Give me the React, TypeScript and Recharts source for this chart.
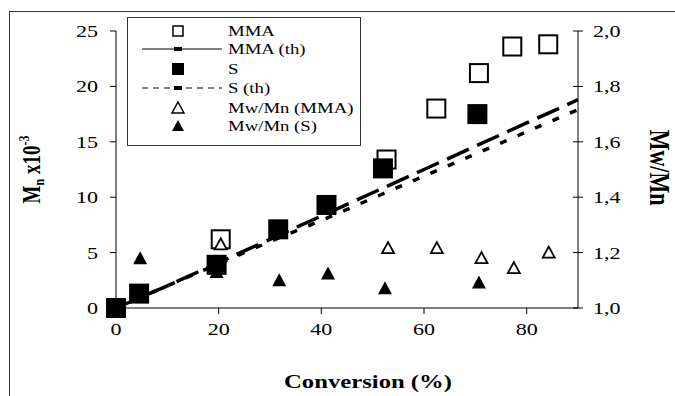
import React from "react";
import { ComposedChart, Scatter, XAxis, YAxis } from "recharts";

// ---- data ----
const mmaX = [20.4, 52.7, 62.4, 70.7, 77.2, 84.2];
const mmaMn = [6.2, 13.4, 18.0, 21.2, 23.6, 23.8];
const sX = [0, 4.5, 19.6, 31.6, 41.0, 52.0, 70.4];
const sMn = [0, 1.3, 3.9, 7.1, 9.3, 12.6, 17.5];
const thX = [0, 10, 20, 30, 40, 50, 60, 70, 80, 90];
const mmaThMn = [0, 2.0, 4.1, 6.2, 8.3, 10.4, 12.5, 14.6, 16.7, 18.8];
const sThMn = [0, 2.0, 4.0, 6.0, 7.9, 9.9, 11.9, 13.9, 15.9, 17.9];
const pdiMmaX = [20.4, 53.0, 62.5, 71.2, 77.5, 84.3];
const pdiMma = [1.23, 1.216, 1.216, 1.18, 1.144, 1.2];
const pdiSX = [4.7, 19.6, 31.8, 41.3, 52.4, 70.7];
const pdiS = [1.18, 1.13, 1.1, 1.125, 1.071, 1.092];
const xTicks = [0, 20, 40, 60, 80];
const leftTicks = [0, 5, 10, 15, 20, 25];
const rightTicks = [1.0, 1.2, 1.4, 1.6, 1.8, 2.0];
const legendNames = ["MMA", "MMA (th)", "S", "S (th)", "Mw/Mn (MMA)", "Mw/Mn (S)"];

const zip = (xs: number[], ys: number[]) => xs.map((x, i) => ({ x, y: ys[i] }));

const FONT = "'Liberation Serif', 'Times New Roman', serif";
const SX = 1.3;

const OpenSquare = (p: any) => (
  <rect x={p.cx - 9} y={p.cy - 9} width={18} height={18} fill="#fff" stroke="#000" strokeWidth={2} />
);
const FilledSquare = (p: any) => (
  <rect x={p.cx - 10} y={p.cy - 10} width={20} height={20} fill="#000" />
);
const OpenTri = (p: any) => (
  <path d={`M${p.cx},${p.cy - 6} L${p.cx + 6},${p.cy + 5} L${p.cx - 6},${p.cy + 5} Z`} fill="#fff" stroke="#000" strokeWidth={1.8} />
);
const FilledTri = (p: any) => (
  <path d={`M${p.cx},${p.cy - 7} L${p.cx + 7},${p.cy + 6} L${p.cx - 7},${p.cy + 6} Z`} fill="#000" />
);
const NoDot = () => <g />;

const LeftTick = (p: any) => (
  <text transform={`translate(${p.x},${p.y}) scale(${SX},1)`} textAnchor="end" dy="0.35em" fontSize={17} fontFamily={FONT} fill="#000">
    {p.payload.value}
  </text>
);
const BottomTick = (p: any) => (
  <text transform={`translate(${p.x},${p.y}) scale(${SX},1)`} textAnchor="middle" dy="0.75em" fontSize={17} fontFamily={FONT} fill="#000">
    {p.payload.value}
  </text>
);
const RightTick = (p: any) => (
  <g>
    <line x1={p.x - 20} x2={p.x - 10} y1={p.y} y2={p.y} stroke="#000" strokeWidth={1} />
    <text transform={`translate(${p.x},${p.y}) scale(${SX},1)`} textAnchor="start" dy="0.35em" fontSize={17} fontFamily={FONT} fill="#000">
      {Number(p.payload.value).toFixed(1).replace(".", ",")}
    </text>
  </g>
);

const LeftLabel = (p: any) => {
  const vb = p.viewBox;
  const cx = vb.x - 25;
  const cy = vb.y + vb.height / 2;
  return (
    <text transform={`translate(${cx},${cy}) scale(${SX},1) rotate(-90)`} textAnchor="middle" dy="0.35em" fontSize={19} fontWeight="bold" fontFamily={FONT} fill="#000">
      M<tspan fontSize={12} dy={3}>n</tspan>
      <tspan dy={-3}> x10</tspan>
      <tspan fontSize={12} dy={-8}>-3</tspan>
    </text>
  );
};
const RightLabel = (p: any) => {
  const vb = p.viewBox;
  const cx = vb.x + 82;
  const cy = vb.y + vb.height / 2 - 2;
  return (
    <text transform={`translate(${cx},${cy}) scale(${SX},1) rotate(90)`} textAnchor="middle" dy="0.35em" fontSize={22} fontWeight="bold" fontFamily={FONT} fill="#000">
      Mw/Mn
    </text>
  );
};
const BottomLabel = (p: any) => {
  const vb = p.viewBox;
  const cx = vb.x + vb.width / 2 + 21;
  const cy = vb.y + 73;
  return (
    <text transform={`translate(${cx},${cy}) scale(${SX},1)`} textAnchor="middle" dy="0.35em" fontSize={19} fontWeight="bold" fontFamily={FONT} fill="#000">
      Conversion (%)
    </text>
  );
};

const LegendBox = () => {
  const rows = [31, 49, 69, 88, 108, 126];
  const sx = 178;
  return (
    <svg width={675} height={396} style={{ position: "absolute", left: 0, top: 0, pointerEvents: "none" }}>
      <rect x={127.5} y={17.5} width={233} height={128} fill="#fff" stroke="#333" strokeWidth={1} />
      <rect x={sx - 5} y={rows[0] - 5} width={10} height={10} fill="#fff" stroke="#000" strokeWidth={1.5} />
      <line x1={142} x2={222} y1={rows[1]} y2={rows[1]} stroke="#000" strokeWidth={1} />
      <rect x={sx - 4} y={rows[1] - 2} width={8} height={4} fill="#000" />
      <rect x={sx - 6} y={rows[2] - 6} width={12} height={12} fill="#000" />
      <line x1={142} x2={222} y1={rows[3]} y2={rows[3]} stroke="#000" strokeWidth={1} strokeDasharray="6 5" />
      <rect x={sx - 4} y={rows[3] - 2} width={8} height={4} fill="#000" />
      <path d={`M${sx},${rows[4] - 6} L${sx + 6},${rows[4] + 5} L${sx - 6},${rows[4] + 5} Z`} fill="#fff" stroke="#000" strokeWidth={1.5} />
      <path d={`M${sx},${rows[5] - 6} L${sx + 6},${rows[5] + 5} L${sx - 6},${rows[5] + 5} Z`} fill="#000" />
      {legendNames.map((n, i) => (
        <text key={n} transform={`translate(228,${rows[i]}) scale(1.25,1)`} dy="0.35em" fontSize={15} fontFamily={FONT} fill="#000">
          {n}
        </text>
      ))}
    </svg>
  );
};

export default function App() {
  return (
    <div style={{ position: "absolute", left: 0, top: 0, width: 675, height: 396, background: "#fff", fontFamily: FONT }}>
      <div style={{ position: "absolute", left: 9, top: 11, width: 666, height: 385, borderTop: "1.5px solid #333", borderLeft: "1.5px solid #333" }} />
      <div style={{ position: "absolute", left: 0, top: 0 }}>
        <ComposedChart width={675} height={396} margin={{ top: 31, right: 37, bottom: 48, left: 56 }}>
          <XAxis
            type="number"
            dataKey="x"
            domain={[0, 90]}
            ticks={xTicks}
            tick={<BottomTick />}
            tickSize={6}
            tickMargin={8}
            height={40}
            axisLine={{ stroke: "#000" }}
            tickLine={{ stroke: "#000" }}
            label={{ content: BottomLabel }}
          />
          <YAxis
            yAxisId="l"
            type="number"
            dataKey="y"
            domain={[0, 25]}
            ticks={leftTicks}
            width={60}
            tick={<LeftTick />}
            tickSize={6}
            tickMargin={12}
            axisLine={{ stroke: "#000" }}
            tickLine={{ stroke: "#000" }}
            label={{ content: LeftLabel }}
          />
          <YAxis
            yAxisId="r"
            orientation="right"
            type="number"
            dataKey="y"
            domain={[1, 2]}
            ticks={rightTicks}
            width={60}
            tick={<RightTick />}
            tickSize={0}
            tickMargin={15}
            tickLine={false}
            axisLine={{ stroke: "#000" }}
            label={{ content: RightLabel }}
          />
          <Scatter yAxisId="l" data={zip(thX, mmaThMn)} shape={NoDot} line={{ stroke: "#000", strokeWidth: 3.5, strokeDasharray: "24 9" }} lineType="joint" isAnimationActive={false} />
          <Scatter yAxisId="l" data={zip(thX, sThMn)} shape={NoDot} line={{ stroke: "#000", strokeWidth: 3.5, strokeDasharray: "7 12" }} lineType="joint" isAnimationActive={false} />
          <Scatter yAxisId="r" data={zip(pdiSX, pdiS)} shape={FilledTri} isAnimationActive={false} />
          <Scatter yAxisId="l" data={zip(mmaX, mmaMn)} shape={OpenSquare} isAnimationActive={false} />
          <Scatter yAxisId="l" data={zip(sX, sMn)} shape={FilledSquare} isAnimationActive={false} />
          <Scatter yAxisId="r" data={zip(pdiMmaX, pdiMma)} shape={OpenTri} isAnimationActive={false} />
        </ComposedChart>
      </div>
      <LegendBox />
    </div>
  );
}
